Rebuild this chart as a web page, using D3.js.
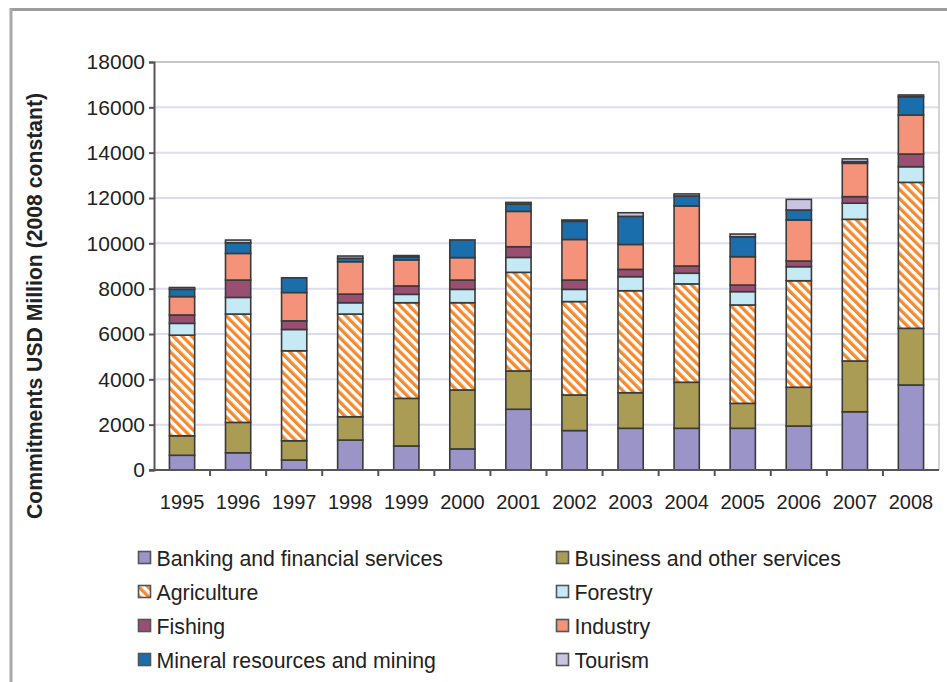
<!DOCTYPE html>
<html><head><meta charset="utf-8">
<script src="https://cdn.jsdelivr.net/npm/d3@7"></script>
<style>body{margin:0;background:#fff;}svg{display:block;font-family:"Liberation Sans",Arial,sans-serif;}</style>
</head><body>
<script>
const years = ["1995","1996","1997","1998","1999","2000","2001","2002","2003","2004","2005","2006","2007","2008"];
const seriesNames = ["Banking and financial services","Business and other services","Agriculture","Forestry","Fishing","Industry","Mineral resources and mining","Tourism"];
const banking   = [650, 760, 440, 1320, 1060, 930, 2680, 1740, 1840, 1840, 1840, 1940, 2570, 3750];
const business  = [860, 1340, 850, 1030, 2100, 2600, 1690, 1570, 1570, 2030, 1100, 1710, 2240, 2500];
const agriculture = [4440, 4780, 3970, 4530, 4220, 3850, 4350, 4120, 4500, 4340, 4340, 4700, 6250, 6440];
const forestry  = [520, 735, 940, 500, 370, 590, 660, 540, 620, 470, 590, 620, 710, 690];
const fishing   = [370, 765, 380, 380, 370, 410, 470, 410, 320, 320, 290, 250, 290, 560];
const industry  = [810, 1175, 1250, 1430, 1150, 990, 1560, 1790, 1100, 2650, 1250, 1810, 1470, 1720];
const mining    = [320, 470, 650, 150, 120, 780, 320, 800, 1240, 440, 880, 440, 75, 810];
const tourism   = [80, 120, 0, 100, 70, 0, 75, 60, 160, 90, 120, 470, 120, 75];
const yTicks = [0,2000,4000,6000,8000,10000,12000,14000,16000,18000];
const colors = ["#9b94c9","#ab9c55","url(#hatch)","#c6e9f6","#9a4f72","#f4937a","#1a6eab","#c9c4e4"];
const legendOrder = [0,1,2,3,4,5,6,7];

const W=947,H=682;
const svg=d3.select("body").append("svg").attr("width",W).attr("height",H);
const defs=svg.append("defs");
const pat=defs.append("pattern").attr("id","hatch").attr("patternUnits","userSpaceOnUse")
  .attr("width",6.5).attr("height",6.5).attr("patternTransform","rotate(-45)");
pat.append("rect").attr("width",6.5).attr("height",6.5).attr("fill","#fff");
pat.append("rect").attr("width",3.3).attr("height",6.5).attr("fill","#f38a2f");

// outer frame
svg.append("line").attr("x1",10).attr("x2",W).attr("y1",9.5).attr("y2",9.5).attr("stroke","#9c9c9c").attr("stroke-width",3);
svg.append("line").attr("x1",11).attr("x2",11).attr("y1",8).attr("y2",H).attr("stroke","#a8a8a8").attr("stroke-width",3);

const pL=154,pR=939,pT=62,pB=470;
const x=d3.scaleBand().domain(years).range([pL,pR]).paddingInner(0.55).paddingOuter(0.275);
const xb=d3.scaleBand().domain(years).range([pL,pR]);
const y=d3.scaleLinear().domain([0,18000]).range([pB,pT]);

// grid
svg.append("g").selectAll("line").data(yTicks.filter(d=>d>0&&d<18000)).join("line")
  .attr("x1",pL).attr("x2",pR).attr("y1",d=>y(d)).attr("y2",d=>y(d))
  .attr("stroke","#dcdcf3").attr("stroke-width",2);
// plot border top & right
svg.append("line").attr("x1",pL).attr("x2",pR).attr("y1",y(18000)).attr("y2",y(18000)).attr("stroke","#b4b4b4").attr("stroke-width",1.5);
svg.append("line").attr("x1",pR).attr("x2",pR).attr("y1",pT).attr("y2",pB).attr("stroke","#c4c4c4").attr("stroke-width",1.5);

// stacked data
const rows=years.map((yr,i)=>({year:yr,v:[banking[i],business[i],agriculture[i],forestry[i],fishing[i],industry[i],mining[i],tourism[i]]}));
const stack=d3.stack().keys(d3.range(8)).value((d,k)=>d.v[k]);
const stacked=stack(rows);
svg.append("g").selectAll("g").data(stacked).join("g")
  .attr("fill",(d,i)=>colors[i])
  .selectAll("rect").data(d=>d.filter(s=>s[1]-s[0]>0)).join("rect")
  .attr("x",d=>x(d.data.year)).attr("width",x.bandwidth())
  .attr("y",d=>y(d[1])).attr("height",d=>y(d[0])-y(d[1]))
  .attr("stroke","#3a3a3a").attr("stroke-width",1.6);

// y axis
const ya=svg.append("g").attr("transform",`translate(${pL},0)`)
  .call(d3.axisLeft(y).tickValues(yTicks).tickSize(5).tickPadding(4).tickFormat(d3.format("d")));
ya.select(".domain").attr("stroke","#555").attr("stroke-width",2);
ya.selectAll(".tick line").attr("stroke","#555").attr("stroke-width",2);
ya.selectAll("text").attr("font-size",21).attr("fill","#222").attr("font-family","Liberation Sans, Arial, sans-serif");

// x axis
const xa=svg.append("g").attr("transform",`translate(0,${pB})`)
  .call(d3.axisBottom(x).tickSize(0).tickPadding(25));
xa.select(".domain").attr("stroke","#555").attr("stroke-width",2).attr("d",`M${pL-5},0H${pR}`);
xa.selectAll("text").attr("font-size",20).attr("fill","#222").attr("font-family","Liberation Sans, Arial, sans-serif");
svg.append("g").selectAll("line").data(years.slice(1)).join("line")
  .attr("x1",d=>xb(d)).attr("x2",d=>xb(d)).attr("y1",pB).attr("y2",pB+6)
  .attr("stroke","#555").attr("stroke-width",2);

// y title
svg.append("text").attr("transform",`translate(42,306) rotate(-90)`).attr("text-anchor","middle")
  .attr("font-size",21.2).attr("font-weight","bold").attr("fill","#222")
  .text("Commitments USD Million (2008 constant)");

// legend
const lg=svg.append("g");
legendOrder.forEach((k,j)=>{
  const col=j%2,row=Math.floor(j/2);
  const lx=col===0?138:556, ly=566+row*34;
  lg.append("rect").attr("x",lx+0.5).attr("y",ly-14.5).attr("width",12).attr("height",12)
    .attr("fill",colors[k]).attr("stroke","#555").attr("stroke-width",1.6);
  lg.append("text").attr("x",lx+18.5).attr("y",ly).attr("font-size",21.3).attr("fill","#222").text(seriesNames[k]);
});
</script>
</body></html>
